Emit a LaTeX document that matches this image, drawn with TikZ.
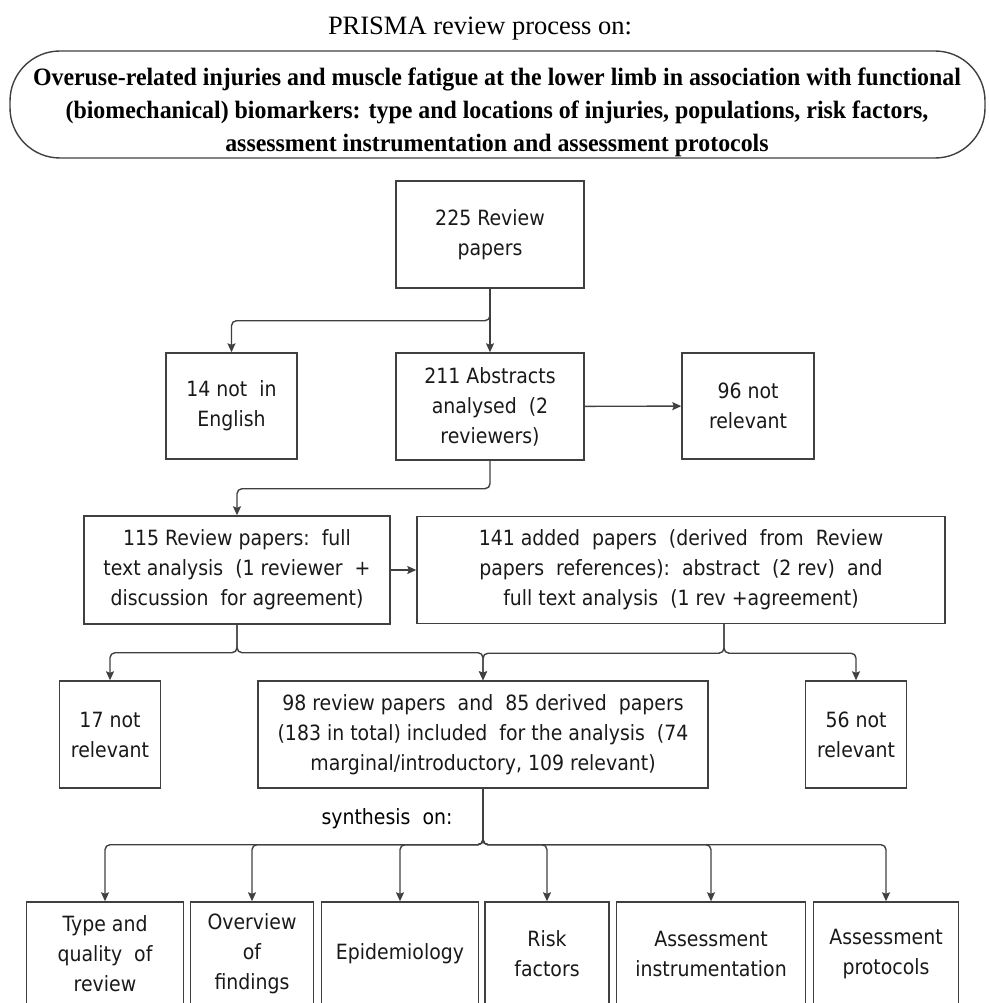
\documentclass[tikz,border=0pt]{standalone}
\usepackage{fontspec}
\setmainfont{Liberation Serif}
\newfontfamily\headfont[FakeStretch=0.955]{Liberation Serif}
\newfontfamily\boxfont[FakeStretch=0.9]{DejaVu Sans}
\usetikzlibrary{arrows.meta}

\begin{document}
\begin{tikzpicture}[x=1pt,y=-1pt,line width=1.4pt,draw=black!75,
    box/.style 2 args={draw=black!75,minimum width=#1,minimum height=#2,align=center,inner sep=0pt,
        font=\boxfont\fontsize{21}{30}\selectfont,text=black!90},
    arr/.style={-{Stealth[length=9pt,width=8pt,inset=1.5pt]},rounded corners=5pt}]
    \useasboundingbox (0,0) rectangle (988,1003);

    % heading
    \node[anchor=base,font=\fontsize{26.5}{30}\selectfont] (title) at (480,35) {PRISMA review process on:};
    \draw[draw=black!75,rounded corners=50pt] (10,51) rectangle (985,158);
    \node[align=center,font=\headfont\bfseries\fontsize{25}{33}\selectfont] (topic) at (497,112)
        {Overuse-related injuries and\ muscle fatigue at the lower limb in association with functional\\
         (biomechanical) biomarkers: type and\ locations of injuries, populations, risk factors,\\
         assessment instrumentation and\ assessment protocols};

    % screening
    \node[box={188pt}{107pt}] (rev225) at (490,234.5) {225 Review\\papers};
    \node[box={131pt}{106pt}] (n14) at (231.5,406) {14 not\ \ in\\English};
    \node[box={188pt}{107pt}] (abs211) at (490,406.5) {211 Abstracts\\analysed\ \ (2\\reviewers)};
    \node[box={132pt}{106pt}] (n96) at (748,406) {96 not\\relevant};
    \node[box={306pt}{108pt}] (rev115) at (237,570) {115 Review\ papers:\ \ full\\text analysis\ \ (1 reviewer\ \ +\\discussion\ \ for agreement)};
    \node[box={528pt}{107pt}] (add141) at (681,570) {141 added\ \ papers\ \ (derived\ \ from\ \ Review\\papers\ \ references):\ \ abstract\ \ (2 rev)\ \ and\\full text analysis\ \ (1 rev +agreement)};
    \node[box={101pt}{107pt}] (n17) at (110,734.5) {17 not\\relevant};
    \node[box={450pt}{107pt}] (incl) at (483,734.5) {98 review\ papers\ \ and\ \ 85 derived\ \ papers\\(183 in total)\ included\ \ for the analysis\ \ (74\\marginal/introductory, 109 relevant)};
    \node[box={101pt}{107pt}] (n56) at (856,734.5) {56 not\\relevant};
    \node[font=\boxfont\fontsize{21}{30}\selectfont] (syn) at (387,819) {synthesis\ \ on:};

    % synthesis topics
    \node[box={157pt}{104pt}] (b1) at (105,954) {Type and\\quality\ \ of\\review};
    \node[box={123pt}{104pt}] (b2) at (252,954) {Overview\\of\\findings};
    \node[box={157pt}{104pt}] (b3) at (400,954) {Epidemiology};
    \node[box={124pt}{104pt}] (b4) at (547,954) {Risk\\factors};
    \node[box={189pt}{104pt}] (b5) at (711,954) {Assessment\\instrumentation};
    \node[box={145pt}{104pt}] (b6) at (886,954) {Assessment\\protocols};

    \draw[arr] (rev225) -- (abs211);
    \draw[arr] (rev225.south) -- ++(0,32) -| (n14.north);
    \draw[arr] (abs211) -- (n96);
    \draw[arr] (abs211.south) -- ++(0,28) -| (rev115.north);
    \draw[arr] (rev115) -- (add141);
    \draw[arr] (rev115.south) -- ++(0,28) -| (n17.north);
    \draw[arr] (rev115.south) -- ++(0,28) -| (incl.north);
    \draw[arr] ([xshift=43pt]add141.south) -- ++(0,29) -| (incl.north);
    \draw[arr] ([xshift=43pt]add141.south) -- ++(0,29) -| (n56.north);
    \foreach \b in {b1,b2,b3,b4,b5,b6}
        \draw[arr] (incl.south) -- ++(0,56) -| (\b.north);
\end{tikzpicture}
\end{document}
